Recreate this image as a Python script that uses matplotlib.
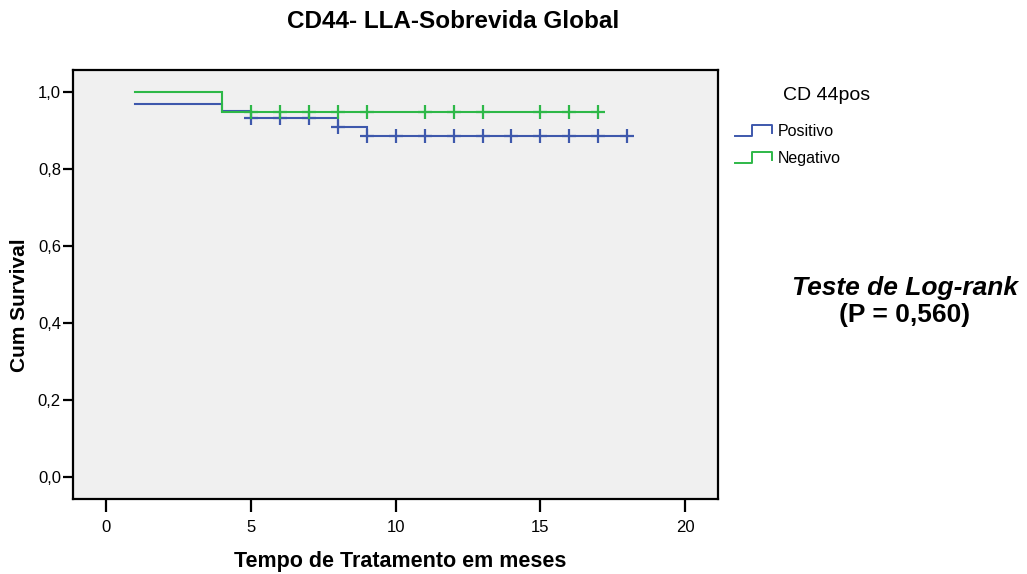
import numpy as np
import matplotlib
matplotlib.use("Agg")
import matplotlib.pyplot as plt
from matplotlib.lines import Line2D

plt.rcParams['font.family'] = ['Liberation Sans', 'DejaVu Sans']

# ---- data ----
groups = ["Positivo", "Negativo"]
pos_times = [1, 4, 5, 8, 9, 18]
pos_surv = [0.967, 0.950, 0.931, 0.909, 0.885, 0.885]
pos_censor = [5, 6, 7, 8, 9, 10, 11, 12, 13, 14, 15, 16, 17, 18]
neg_times = [1, 4, 17]
neg_surv = [1.0, 0.947, 0.947]
neg_censor = [5, 6, 7, 8, 9, 11, 12, 13, 15, 16, 17]
x_ticks = [0, 5, 10, 15, 20]
y_ticks = [0.0, 0.2, 0.4, 0.6, 0.8, 1.0]
y_ticklabels = ["0,0", "0,2", "0,4", "0,6", "0,8", "1,0"]

BLUE = "#3e58ac"
GREEN = "#2eb848"
colors = [BLUE, GREEN]

W, H = 1027, 574
fig = plt.figure(figsize=(W / 100, H / 100), dpi=100)

def fx(px):
    return px / W

def fy(py):
    return 1 - py / H

ax = fig.add_axes([fx(73), fy(499), fx(718) - fx(73), fy(70) - fy(499)])
ax.set_facecolor("#f0f0f0")

def step_val(times, surv, t):
    idx = np.searchsorted(times, t, side="right") - 1
    return np.asarray(surv)[idx]

series = [(pos_times, pos_surv, pos_censor), (neg_times, neg_surv, neg_censor)]
for (t, s, c), col in zip(series, colors):
    ax.step(t, s, where="post", color=col, lw=1.5, solid_joinstyle="miter")
    cy = step_val(t, s, np.array(c))
    ax.plot(c, cy, linestyle="none", marker="+", markersize=10.5, mew=1.6, color=col)

ax.set_xlim(-1.14, 21.13)
ax.set_ylim(-0.056, 1.056)
ax.set_xticks(x_ticks)
ax.set_xticklabels([str(v) for v in x_ticks])
ax.set_yticks(y_ticks)
ax.set_yticklabels(y_ticklabels)
for sp in ax.spines.values():
    sp.set_linewidth(1.6)
    sp.set_color("black")
ax.tick_params(axis="x", length=9, width=1.6, pad=6, labelsize=12)
ax.tick_params(axis="y", length=7, width=1.6, pad=1.7, labelsize=12)

# titles / labels
fig.text(fx(287), fy(28.5), "CD44- LLA-Sobrevida Global", ha="left", va="baseline",
         fontsize=17.5, fontweight="bold")
fig.text(fx(400), fy(562), "Tempo de Tratamento em meses", ha="center", va="center",
         fontsize=15.5, fontweight="bold")
fig.text(fx(20), fy(305), "Cum Survival", ha="center", va="center", rotation=90,
         fontsize=15, fontweight="bold")

# legend (drawn manually with step-shaped handles)
fig.text(fx(827), fy(95), "CD 44pos", ha="center", va="center", fontsize=14)
for i, (lab, col) in enumerate(zip(groups, colors)):
    yc = 131 + 27 * i
    xs = [735, 752, 752, 772, 772]
    ys = [yc + 5, yc + 5, yc - 6, yc - 6, yc + 2]
    fig.add_artist(Line2D([fx(v) for v in xs], [fy(v) for v in ys], color=col, lw=1.4,
                          transform=fig.transFigure))
    fig.text(fx(778), fy(yc), lab, ha="left", va="center", fontsize=11.5)

# log-rank annotation
fig.text(fx(904.5), fy(288), "Teste de Log-rank", ha="center", va="center",
         fontsize=19, fontweight="bold", fontstyle="italic")
fig.text(fx(904.5), fy(315), "(P = 0,560)", ha="center", va="center",
         fontsize=19, fontweight="bold")

fig.savefig("out.png", dpi=100)
